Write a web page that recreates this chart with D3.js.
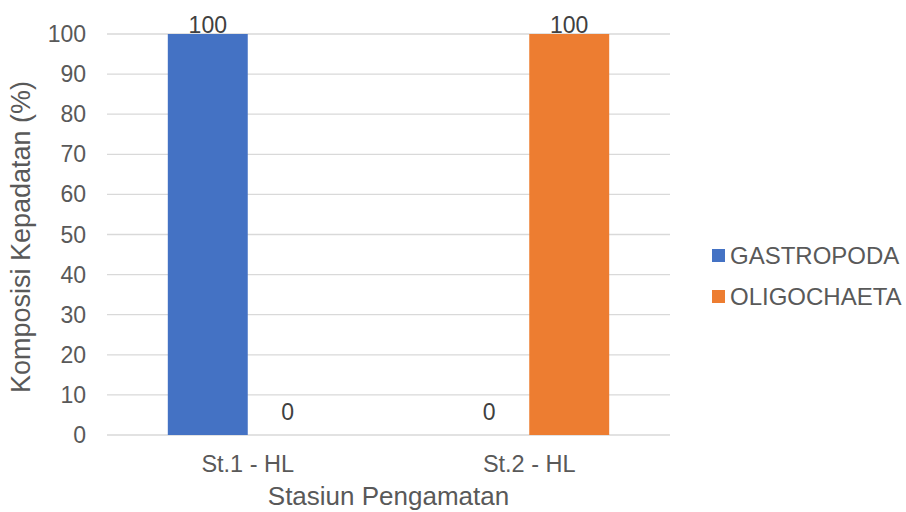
<!DOCTYPE html>
<html>
<head>
<meta charset="utf-8">
<script src="https://cdn.jsdelivr.net/npm/d3@7"></script>
<style>
  html, body { margin: 0; padding: 0; background: #fff; }
  svg { display: block; font-family: Arial, "Liberation Sans", sans-serif; }
</style>
</head>
<body>
<svg id="chart" width="906" height="512"></svg>
<script>
const categories = ["St.1 - HL", "St.2 - HL"];
const seriesNames = ["GASTROPODA", "OLIGOCHAETA"];
const gastropoda = [100, 0];
const oligochaeta = [0, 100];
const yTicks = [0, 10, 20, 30, 40, 50, 60, 70, 80, 90, 100];
const colors = ["#4472C4", "#ED7D31"];

const seriesValues = [gastropoda, oligochaeta];
const svg = d3.select("#chart");
const pLeft = 107, pRight = 670, pTop = 34, pBottom = 435;

const x0 = d3.scaleBand().domain(categories).range([pLeft, pRight]).paddingInner(0.432).paddingOuter(0.216);
const x1 = d3.scaleBand().domain(seriesNames).range([0, x0.bandwidth()]);
const y = d3.scaleLinear().domain([0, 100]).range([pBottom, pTop]);

// gridlines
svg.append("g").selectAll("line").data(yTicks).join("line")
  .attr("x1", pLeft).attr("x2", pRight)
  .attr("y1", d => y(d)).attr("y2", d => y(d))
  .attr("stroke", "#D9D9D9").attr("stroke-width", 1.3);

// y tick labels
svg.append("g").selectAll("text").data(yTicks).join("text")
  .attr("x", 86).attr("y", d => y(d)).attr("dy", "0.35em")
  .attr("text-anchor", "end").attr("font-size", 23).attr("fill", "#595959")
  .text(d => d);

// bars
const groups = svg.append("g").selectAll("g").data(categories).join("g")
  .attr("transform", d => `translate(${x0(d)},0)`);
groups.selectAll("rect").data((c, i) => seriesNames.map((s, j) => ({s, j, v: seriesValues[j][i]})))
  .join("rect")
  .attr("x", d => x1(d.s)).attr("width", x1.bandwidth())
  .attr("y", d => y(d.v)).attr("height", d => pBottom - y(d.v))
  .attr("fill", d => colors[d.j]);
groups.selectAll("text").data((c, i) => seriesNames.map((s, j) => ({s, j, v: seriesValues[j][i]})))
  .join("text")
  .attr("x", d => x1(d.s) + x1.bandwidth() / 2)
  .attr("y", d => Math.max(y(d.v) - 15, 33))
  .attr("text-anchor", "middle").attr("font-size", 23).attr("fill", "#404040")
  .text(d => d.v);

// x labels
svg.append("g").selectAll("text").data(categories).join("text")
  .attr("x", d => x0(d) + x0.bandwidth() / 2).attr("y", 472)
  .attr("text-anchor", "middle").attr("font-size", 23.5).attr("fill", "#595959")
  .text(d => d);

// axis titles
svg.append("text").attr("x", (pLeft + pRight) / 2).attr("y", 505)
  .attr("text-anchor", "middle").attr("font-size", 26).attr("fill", "#595959")
  .text("Stasiun Pengamatan");
svg.append("text").attr("transform", `translate(30,237) rotate(-90)`)
  .attr("text-anchor", "middle").attr("font-size", 27).attr("fill", "#595959")
  .text("Komposisi Kepadatan (%)");

// legend
const legend = svg.append("g").selectAll("g").data(seriesNames).join("g")
  .attr("transform", (d, i) => `translate(712,${255.5 + i * 41})`);
legend.append("rect").attr("x", 0).attr("y", -6.5).attr("width", 13).attr("height", 13)
  .attr("fill", (d, i) => colors[i]);
legend.append("text").attr("x", 18).attr("y", 0).attr("dy", "0.35em")
  .attr("font-size", 24).attr("fill", "#595959").text(d => d);
</script>
</body>
</html>
